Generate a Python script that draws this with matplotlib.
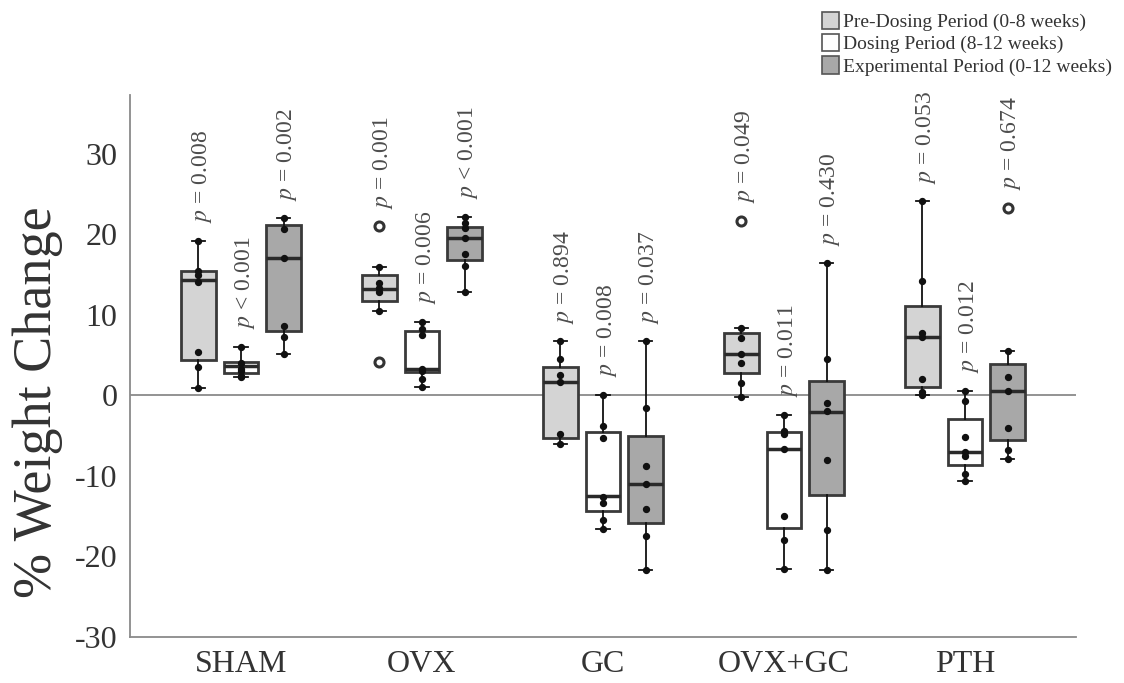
import numpy as np
import matplotlib
matplotlib.use("Agg")
import matplotlib.pyplot as plt
from matplotlib.patches import Patch

plt.rcParams['font.family'] = ['Liberation Serif', 'DejaVu Serif']
plt.rcParams['mathtext.fontset'] = 'stix'

groups = ['SHAM', 'OVX', 'GC', 'OVX+GC', 'PTH']
periods = ['Pre-Dosing Period (0-8 weeks)', 'Dosing Period (8-12 weeks)',
           'Experimental Period (0-12 weeks)']

# pre-dosing
pre_med = [14.3, 13.2, 1.7, 5.1, 7.3]
pre_q1 = [4.4, 11.7, -5.3, 2.75, 1.1]
pre_q3 = [15.5, 14.9, 3.5, 7.75, 11.1]
pre_lo = [0.9, 10.5, -6.0, -0.2, 0.1]
pre_hi = [19.2, 16.0, 6.7, 8.4, 24.1]
pre_fliers = [[], [21.0, 4.2], [], [21.7], []]
pre_points = [[19.2, 15.4, 15.0, 14.1, 5.4, 3.5, 0.9],
              [16.0, 13.9, 13.3, 12.9, 10.5],
              [6.7, 4.5, 2.5, 1.7, -4.8, -6.0],
              [8.4, 7.1, 5.1, 4.0, 1.5, -0.2],
              [24.1, 14.25, 7.75, 7.3, 2.0, 0.4, 0.1]]
pre_p = ['= 0.008', '= 0.001', '= 0.894', '= 0.049', '= 0.053']

# dosing
dose_med = [3.7, 3.3, -12.5, -6.6, -7.0]
dose_q1 = [2.8, 2.9, -14.3, -16.5, -8.7]
dose_q3 = [4.2, 8.0, -4.5, -4.6, -2.9]
dose_lo = [2.25, 1.0, -16.6, -21.5, -10.6]
dose_hi = [6.0, 9.1, 0.1, -2.4, 0.6]
dose_fliers = [[], [], [], [], []]
dose_points = [[6.0, 4.0, 3.3, 3.0, 2.4, 2.25],
               [9.1, 8.3, 7.5, 3.3, 3.0, 2.0, 1.0],
               [0.1, -3.8, -5.3, -12.6, -13.3, -15.5, -16.6],
               [-2.4, -4.4, -4.8, -6.6, -15.0, -17.9, -21.5],
               [0.6, -0.7, -5.2, -7.0, -7.5, -9.8, -10.6]]
dose_p = ['< 0.001', '= 0.006', '= 0.008', '= 0.011', '= 0.012']

# experimental
exp_med = [17.0, 19.5, -11.0, -2.0, 0.6]
exp_q1 = [8.0, 16.75, -15.8, -12.4, -5.5]
exp_q3 = [21.1, 20.9, -5.1, 1.75, 3.9]
exp_lo = [5.1, 12.9, -21.7, -21.7, -7.9]
exp_hi = [22.0, 22.2, 6.7, 16.4, 5.5]
exp_fliers = [[], [], [], [], [23.3]]
exp_points = [[22.0, 20.6, 17.0, 8.6, 7.3, 5.1],
              [22.2, 21.4, 20.8, 19.5, 17.5, 16.1, 12.9],
              [6.7, -1.6, -8.8, -11.0, -14.1, -17.4, -21.7],
              [16.4, 4.5, -1.0, -1.9, -8.0, -16.7, -21.7],
              [5.5, 2.25, 0.5, -4.1, -6.8, -7.9]]
exp_p = ['= 0.002', '< 0.001', '= 0.037', '= 0.430', '= 0.674']

series = [
    (pre_med, pre_q1, pre_q3, pre_lo, pre_hi, pre_fliers, pre_points, pre_p, '#d4d4d4'),
    (dose_med, dose_q1, dose_q3, dose_lo, dose_hi, dose_fliers, dose_points, dose_p, '#ffffff'),
    (exp_med, exp_q1, exp_q3, exp_lo, exp_hi, exp_fliers, exp_points, exp_p, '#a8a8a8'),
]

fig = plt.figure(figsize=(11.24, 6.83), dpi=100)
ax = fig.add_axes([130 / 1124, 46 / 683, 946 / 1124, 542 / 683])

offsets = [-0.235, 0.0, 0.235]
bw = 0.19
xg = np.arange(len(groups))

ax.axhline(0, color='#8a8a8a', lw=1.3, zorder=0)

for (med, q1, q3, lo, hi, fl, pts, pv, col), off in zip(series, offsets):
    stats = []
    for i in range(len(groups)):
        stats.append(dict(med=med[i], q1=q1[i], q3=q3[i], whislo=lo[i],
                          whishi=hi[i], fliers=fl[i]))
    pos = xg + off
    ax.bxp(stats, positions=pos, widths=bw, patch_artist=True, showfliers=True,
           capwidths=0.075,
           boxprops=dict(facecolor=col, edgecolor='#3a3a3a', linewidth=2),
           medianprops=dict(color='#2a2a2a', linewidth=2.5),
           whiskerprops=dict(color='#111111', linewidth=1.3),
           capprops=dict(color='#111111', linewidth=1.3),
           flierprops=dict(marker='o', markerfacecolor='white', markeredgecolor='#333333',
                           markersize=6.5, markeredgewidth=2.2))
    for i in range(len(groups)):
        ax.scatter(np.full(len(pts[i]), pos[i]), pts[i], s=18, color='#111111', zorder=4)
        top = max([hi[i]] + fl[i])
        ax.text(pos[i] + 0.02, top + 2.2, '$p$ ' + pv[i], rotation=90, ha='center',
                va='bottom', fontsize=17, color='#4d4d4d')

ax.set_xlim(-0.613, 4.613)
ax.set_ylim(-30, 37.3)
ax.set_yticks([-30, -20, -10, 0, 10, 20, 30])
ax.set_yticklabels(['-30', '-20', '-10', '0', '10', '20', '30'])
ax.set_xticks(xg)
ax.set_xticklabels(groups)
ax.tick_params(axis='both', length=0, labelsize=23, labelcolor='#333333')
ax.tick_params(axis='y', pad=9)
ax.tick_params(axis='x', pad=9)
for s in ['top', 'right']:
    ax.spines[s].set_visible(False)
for s in ['left', 'bottom']:
    ax.spines[s].set_color('#8a8a8a')
    ax.spines[s].set_linewidth(1.3)

fig.text(38 / 1124, 1 - 402 / 683, '% Weight Change', rotation=90, ha='center',
         va='center', fontsize=39, color='#333333')

handles = [Patch(facecolor=c, edgecolor='#555555', linewidth=1.2)
           for c in ['#d4d4d4', '#ffffff', '#a8a8a8']]
fig.legend(handles, periods, loc='upper right', bbox_to_anchor=(1.0, 1.0),
           frameon=False, fontsize=14, handlelength=0.9, handleheight=1.0,
           handletextpad=0.2, labelspacing=0.15, borderaxespad=0.2,
           labelcolor='#333333')

fig.savefig('out.png', dpi=100)
